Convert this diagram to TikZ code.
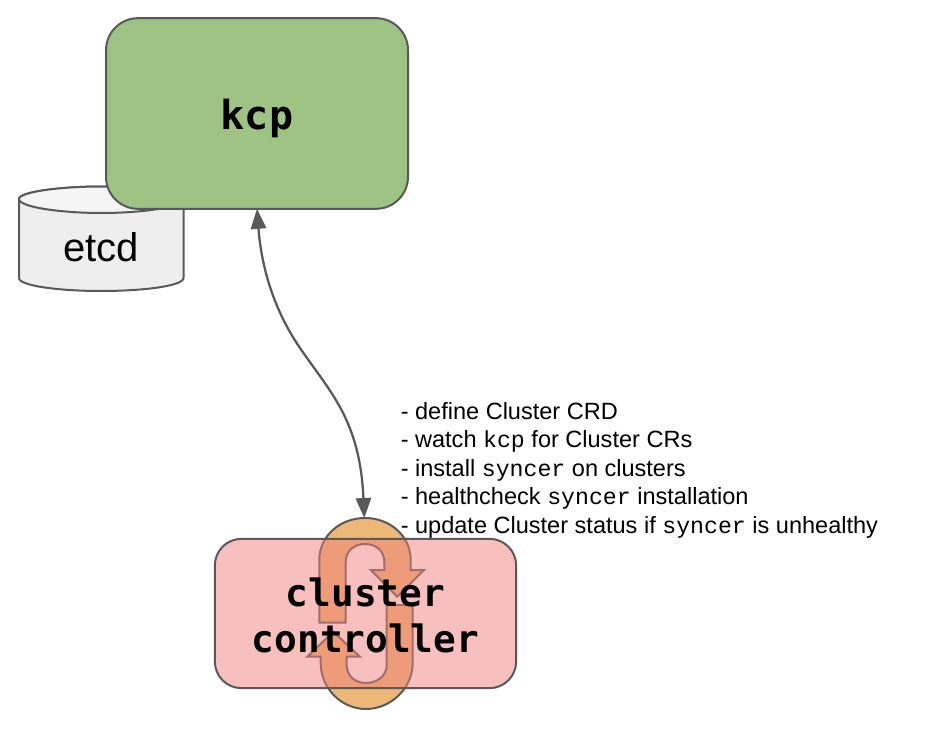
\documentclass[tikz,border=0pt]{standalone}
\usepackage{fontspec}
\setmainfont{Liberation Sans}
\newfontfamily\titlemono{DejaVu Sans Mono}[BoldFont={DejaVu Sans Mono Bold}]
\newfontfamily\labelmono{Liberation Mono}
\usetikzlibrary{arrows.meta}
\definecolor{linegrey}{HTML}{595959}
\definecolor{kcpgreen}{HTML}{9FC285}
\definecolor{ctrlpink}{HTML}{EF817D}
\definecolor{drumgrey}{HTML}{EEEEEE}
\definecolor{drumtop}{HTML}{F5F5F5}
\definecolor{looporange}{HTML}{EDB777}
\newcommand{\sy}{{\labelmono\fontsize{17.4}{21.4}\selectfont syncer}}
\newcommand{\kc}{{\labelmono\fontsize{17.4}{21.4}\selectfont kcp}}
\tikzset{
  x=0.75pt,y=-0.75pt,
  box/.style={draw=linegrey,line width=1.5pt,inner sep=0pt,outer sep=0pt,align=center},
  titletext/.style={font=\titlemono\bfseries\fontsize{28.3}{34.5}\selectfont,text=black},
  drum/.style={draw=linegrey,line width=1.5pt},
  looparrow/.style={draw=linegrey,line width=1.5pt,fill=looporange},
  conn/.style={draw=linegrey,line width=1.7pt,{Triangle[width=11.5pt,length=15pt,fill=linegrey]}-{Triangle[width=11.5pt,length=15pt,fill=linegrey]}},
  note/.style={font=\fontsize{17.65}{21.4}\selectfont,align=left,anchor=north west,inner sep=0pt,text=black}
}
\begin{document}
\begin{tikzpicture}
\useasboundingbox (0,0) rectangle (936,742);
% etcd drum
\path[drum,fill=drumgrey] (19,199) -- (19,278) .. controls (19,286) and (60,291) .. (101.5,291) .. controls (143,291) and (183.5,286) .. (183.5,278) -- (183.5,199) .. controls (183.5,192) and (143,186.5) .. (101.5,186.5) .. controls (60,186.5) and (19,192) .. (19,199) -- cycle;
\path[drum,fill=drumtop] (19,199) .. controls (19,192) and (60,186.5) .. (101.5,186.5) .. controls (143,186.5) and (183.5,192) .. (183.5,199) .. controls (183.5,207) and (143,213) .. (101.5,213) .. controls (60,213) and (19,207) .. (19,199) -- cycle;
\node[inner sep=0pt,font=\fontsize{30}{36}\selectfont] (etcd) at (101,247) {etcd};
% kcp
\node[box,fill=kcpgreen,rounded corners=24pt,minimum width=226.5pt,minimum height=143pt] (kcp) at (257,113.5) {};
\node[titletext,font=\titlemono\bfseries\fontsize{30}{36}\selectfont] (kcplabel) at (257,118) {kcp};
% loop arrows
\path[looparrow] (319.3,622.7) -- (345.7,622.7) -- (345.7,561.7) .. controls (345.7,551) and (354,544) .. (365,544) .. controls (376,544) and (384.3,551) .. (384.3,561.7) -- (384.3,570) -- (370.7,570) -- (397.3,596.7) -- (424,570) -- (410.7,570) -- (410.7,560) .. controls (410.7,536) and (390,518) .. (365,518) .. controls (340,518) and (319.3,536) .. (319.3,560) -- cycle;
\path[looparrow] (412.7,605) -- (386.7,605) -- (386.7,665) .. controls (386.7,676) and (377,683) .. (366,683) .. controls (355,683) and (346.7,676) .. (346.7,665) -- (346.7,656.7) -- (360,656.7) -- (333.3,631.7) -- (307.3,656.7) -- (320.7,656.7) -- (320.7,663) .. controls (320.7,688) and (341,709) .. (366,709) .. controls (391,709) and (412.7,688) .. (412.7,663) -- cycle;
% cluster controller
\node[box,fill=ctrlpink,fill opacity=0.5,rounded corners=20pt,minimum width=226pt,minimum height=112pt] (ctrl) at (365.5,613.5) {};
\node[titletext,align=center,inner sep=0pt] (ctrllabel) at (365.5,615) {cluster\\controller};
% connector
\coordinate (looptop) at (364.3,518);
\coordinate (bend) at (300,348);
\draw[conn] (kcp.south) .. controls (262,275) and (278,316) .. (bend) .. controls (330,392) and (360,420) .. (looptop);
% note
\node[note] (notes) at (400.5,402) {- define Cluster CRD\\- watch \kc{} for Cluster CRs\\- install \sy{} on clusters\\- healthcheck \sy{} installation\\- update Cluster status if \sy{} is unhealthy};
\end{tikzpicture}
\end{document}
